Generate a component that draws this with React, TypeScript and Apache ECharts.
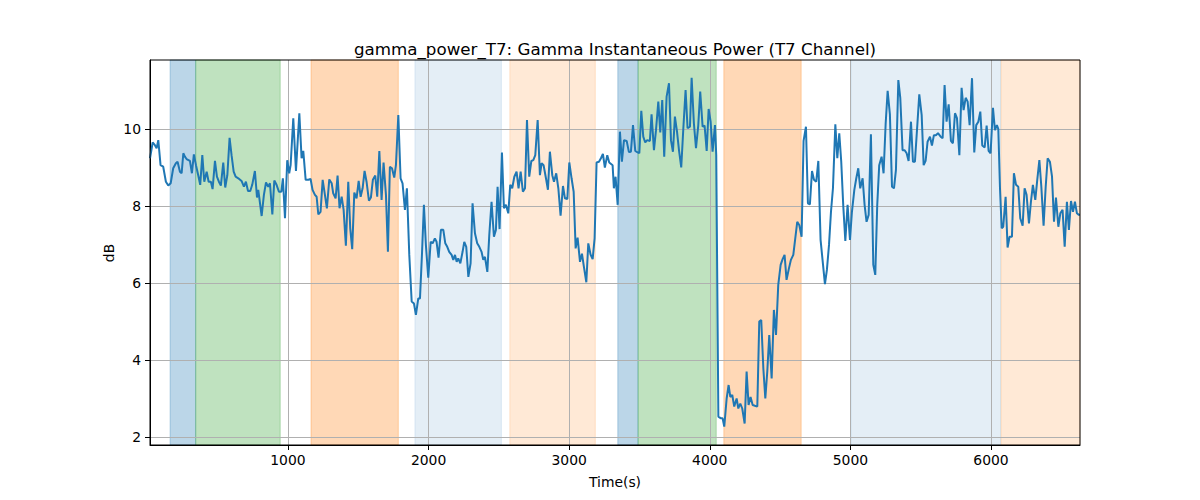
import { useEffect, useRef } from "react";
import * as echarts from "echarts";

// sample times (s) and gamma power (dB)
const TIME_S = [
  19, 38, 54, 66, 78, 94, 113, 132, 149, 166, 184, 203, 215, 232, 244, 256, 267, 279, 303, 317,
  331, 346, 362, 376, 391, 405, 422, 436, 452, 464, 481, 495, 509, 523, 540, 554, 569, 585, 599, 614,
  628, 647, 670, 687, 701, 716, 732, 746, 765, 780, 789, 813, 829, 844, 860, 872, 889, 903, 919, 936,
  953, 964, 979, 995, 1009, 1019, 1038, 1057, 1081,
  1097, 1109, 1126, 1145, 1161, 1175, 1192, 1204, 1216, 1232, 1247, 1263, 1277, 1294, 1311, 1322, 1339, 1353, 1367, 1382,
  1396, 1412, 1429, 1443, 1457, 1472, 1488, 1503, 1517, 1531, 1545, 1559, 1576, 1590, 1604, 1621, 1635, 1650, 1666, 1680,
  1697, 1711, 1725, 1740, 1756, 1768, 1785, 1801, 1815, 1832, 1846, 1863, 1880, 1896, 1910, 1927, 1939, 1953, 1967, 1981,
  1998, 2015, 2029, 2045, 2057, 2071, 2088, 2105, 2119, 2133, 2147, 2164, 2176, 2188, 2200, 2211, 2226, 2242, 2254, 2268, 2283,
  2299, 2313, 2330, 2346, 2361, 2377, 2389, 2401, 2418, 2432, 2448, 2465, 2479, 2491, 2505, 2522, 2536, 2550, 2567, 2581,
  2595, 2610, 2626, 2640, 2655, 2671, 2686, 2700, 2716, 2731, 2745, 2759, 2776, 2792, 2804, 2818, 2835, 2849, 2863, 2880,
  2892, 2908, 2923, 2939, 2956, 2970, 2987, 3001, 3017, 3032, 3046, 3060, 3077, 3091, 3105, 3122, 3136, 3152, 3167, 3181,
  3195, 3212, 3226, 3240, 3254, 3271, 3285,
  3309, 3318, 3330, 3345, 3361, 3375, 3390, 3409, 3425, 3439, 3454, 3470, 3484, 3499, 3513, 3527, 3541, 3555, 3574, 3586,
  3603, 3617, 3634, 3648, 3662, 3676, 3693, 3710, 3724, 3738, 3752, 3767, 3781, 3797, 3812, 3828, 3842, 3859, 3871, 3887,
  3902, 3918, 3932, 3949, 3963, 3978, 3992, 4006, 4020, 4037, 4046, 4061, 4077, 4091, 4103, 4120, 4134, 4146, 4160, 4174,
  4191, 4203, 4217, 4231, 4248, 4262, 4276, 4290, 4305, 4321, 4338, 4352, 4366, 4381, 4395, 4409, 4423, 4440, 4456, 4471,
  4487, 4504, 4518, 4532, 4546, 4563, 4577, 4594, 4608, 4622, 4637, 4653, 4667, 4684, 4698, 4712, 4727, 4741, 4757, 4772,
  4788, 4802, 4819, 4833, 4848, 4862, 4876, 4893, 4907, 4921, 4935, 4949, 4964, 4980, 4997, 5011, 5028, 5042, 5056, 5070,
  5087, 5101, 5115, 5130, 5146, 5163, 5177, 5191, 5205, 5222, 5236, 5251, 5265, 5281, 5296, 5310, 5324, 5341, 5355, 5371,
  5386, 5400, 5414, 5431, 5445, 5459, 5476, 5490, 5507, 5521, 5535, 5549, 5566, 5580, 5594, 5608, 5623,
  5642, 5656, 5670, 5684, 5699, 5715, 5729, 5744, 5758, 5775, 5791, 5805, 5820, 5834, 5848, 5865, 5881, 5895, 5910, 5924,
  5938, 5955, 5969, 5983, 5997, 6014, 6028, 6042, 6052, 6064, 6076, 6087, 6104, 6118, 6132, 6149, 6163, 6178, 6194, 6208,
  6225, 6239, 6253, 6270, 6284, 6298, 6315, 6329, 6344, 6358, 6374, 6389, 6403, 6419, 6434, 6448, 6462, 6479, 6493, 6509,
  6524, 6540, 6554, 6569, 6583, 6597, 6611, 6625, 6633,
];

const POWER_DB = [
  9.24, 9.65, 9.58, 9.5, 9.71, 9.06, 9.02, 8.63, 8.53, 8.59, 8.98, 9.11, 9.15, 8.89, 8.85, 9.37, 9.28, 9.22, 9.17, 8.85,
  9.34, 9.06, 8.8, 8.55, 9.32, 8.63, 8.89, 8.63, 8.63, 8.44, 9.17, 8.76, 8.63, 8.53, 9.13, 8.48, 8.8, 9.77, 9.32, 8.89,
  8.76, 8.72, 8.65, 8.5, 8.63, 8.39, 8.39, 8.55, 8.91, 8.22, 8.42, 7.74, 8.29, 8.61, 8.5, 8.59, 7.78, 8.66, 8.55, 8.37,
  8.37, 8.72, 7.68, 9.19, 8.85, 9.06, 10.28, 8.91, 10.41,
  9.24, 9.43, 8.68, 8.68, 8.7, 8.42, 8.29, 8.24, 7.78, 7.85, 8.68, 8.29, 7.94, 8.69, 8.59, 8.33, 8.2, 8.79, 7.94, 8.24,
  7.9, 6.97, 8.63, 7.42, 6.88, 8.35, 8.2, 8.65, 8.24, 8.46, 8.91, 8.63, 8.14, 8.22, 8.68, 8.79, 8.24, 9.43, 8.16, 9.13,
  8.29, 6.81, 9.02, 8.98, 8.74, 9.06, 10.36, 8.72, 8.59, 7.9, 8.46, 6.73, 5.52, 5.47, 5.17, 5.6, 5.6, 6.73, 8.03, 6.99,
  6.14, 7.07, 7.03, 7.16, 7.07, 6.66, 7.38, 7.38, 7.03, 6.94, 6.81, 6.73, 6.6, 6.73, 6.55, 6.64, 6.51, 6.81, 7.07, 6.94, 6.16,
  6.51, 8.07, 7.29, 7.03, 6.94, 6.81, 6.6, 6.68, 6.29, 7.25, 8.11, 7.2, 7.38, 8.5, 7.4, 9.39, 7.94, 8.03, 7.81, 8.55,
  8.46, 8.76, 8.89, 8.46, 8.89, 8.37, 8.46, 10.23, 8.76, 9.17, 9.19, 9.32, 10.23, 8.8, 9.11, 9.06, 8.72, 8.42, 9.41, 8.8,
  8.63, 8.85, 8.46, 7.75, 8.52, 8.2, 8.18, 9.13, 8.72, 8.37, 6.9, 7.18, 6.55, 6.76, 6.42, 6.02, 7.03, 6.74, 6.62, 7.16,
  9.13, 9.15, 9.24, 9.35, 9.0, 9.32, 9.13,
  9.06, 8.46, 8.76, 8.03, 9.93, 9.15, 9.71, 9.69, 9.4, 9.41, 10.1, 9.43, 9.4, 9.37, 10.47, 9.8, 9.65, 9.71, 9.69, 10.38,
  9.45, 9.95, 10.71, 9.91, 10.75, 9.28, 10.84, 11.19, 9.71, 9.41, 10.32, 9.93, 9.45, 9.0, 10.02, 11.01, 10.02, 10.06, 11.33, 10.15,
  9.5, 10.09, 10.97, 10.06, 10.09, 9.43, 10.52, 10.19, 9.41, 10.1, 9.32, 2.53, 2.49, 2.49, 2.27, 3.0, 3.35, 3.04, 3.09, 2.79,
  3.0, 2.74, 2.87, 2.74, 2.35, 3.7, 2.83, 3.04, 2.83, 2.81, 2.79, 5.0, 5.04, 3.78, 3.0, 3.7, 4.65, 3.52, 5.3, 4.65,
  5.95, 6.47, 6.62, 6.73, 6.08, 6.38, 6.6, 6.73, 7.16, 7.59, 7.5, 7.2, 9.69, 10.06, 8.07, 8.04, 8.91, 8.68, 8.63, 9.17,
  7.12, 6.6, 5.97, 6.34, 6.99, 7.85, 8.46, 10.12, 9.24, 9.89, 9.15, 8.03, 7.09, 8.03, 7.12, 7.85, 8.42, 8.72, 8.98, 8.46,
  8.72, 8.03, 7.59, 7.77, 9.86, 6.47, 6.21, 8.03, 9.06, 9.28, 8.85, 10.15, 10.99, 10.38, 8.5, 8.46, 8.94, 11.27, 10.8, 9.45,
  9.45, 9.37, 9.17, 10.19, 9.15, 9.15, 10.1, 10.9, 10.36, 9.06, 9.17, 9.67, 9.8, 9.57, 9.84, 9.84, 9.89,
  9.8, 9.76, 11.14, 10.19, 10.64, 9.69, 9.63, 10.41, 10.28, 9.32, 11.07, 10.49, 10.81, 10.71, 10.1, 11.32, 9.39, 10.1, 10.19, 10.45,
  9.57, 9.52, 10.09, 9.43, 9.37, 10.55, 9.97, 10.1, 10.0, 8.46, 7.42, 7.46, 8.24, 6.92, 7.2, 7.2, 8.85, 8.55, 8.5, 7.68,
  7.49, 8.46, 8.29, 7.55, 8.11, 8.55, 8.16, 8.68, 9.19, 8.5, 7.49, 8.5, 9.24, 9.15, 8.76, 7.59, 8.22, 7.46, 7.81, 7.9,
  6.94, 8.11, 7.38, 8.13, 7.85, 8.11, 7.81, 7.77, 7.77,
];

// shaded epochs: [start, end, kind]
const SPAN_START = [162, 344, 1164, 1903, 2578, 3346, 3490, 4100, 5008, 6072];
const SPAN_END = [344, 945, 1785, 2518, 3186, 3490, 4046, 4650, 6068, 6633];
const SPAN_KIND = ["blue", "green", "orange", "paleBlue", "paleOrange", "blue", "green", "orange", "paleBlue", "paleOrange"];

const X_TICKS = [1000, 2000, 3000, 4000, 5000, 6000];
const Y_TICKS = [2, 4, 6, 8, 10];

const SPAN_COLORS: Record<string, string> = {
  blue: "rgba(31,119,180,0.3)",
  green: "rgba(44,160,44,0.3)",
  orange: "rgba(255,127,14,0.3)",
  paleBlue: "rgba(31,119,180,0.12)",
  paleOrange: "rgba(255,127,14,0.17)",
};

const FONT = "DejaVu Sans";

export default function App() {
  const ref = useRef<HTMLDivElement>(null);
  useEffect(() => {
    if (!ref.current) return;
    const chart = echarts.init(ref.current, undefined, { renderer: "svg" });
    const points = TIME_S.map((t, i) => [t, POWER_DB[i]]);
    const spans = SPAN_START.map((s, i) => {
      const c = SPAN_COLORS[SPAN_KIND[i]];
      return [
        { xAxis: s, itemStyle: { color: c, borderColor: c, borderWidth: 1 } },
        { xAxis: SPAN_END[i] },
      ];
    });
    const axisCommon = {
      z: 1.5,
      axisLine: { show: true, lineStyle: { color: "#000", width: 1 } },
      splitLine: { show: true, lineStyle: { color: "#b0b0b0", width: 1 } },
    };
    const option: echarts.EChartsOption = {
      animation: false,
      backgroundColor: "#fff",
      title: {
        text: "gamma_power_T7: Gamma Instantaneous Power (T7 Channel)",
        left: 610,
        top: 35,
        textAlign: "center",
        textStyle: { fontFamily: FONT, fontSize: 16.7, fontWeight: "normal", color: "#000" },
      },
      grid: {
        left: 150,
        top: 60,
        width: 930,
        height: 385,
        show: true,
        z: 3,
        borderColor: "#000",
        borderWidth: 1,
        backgroundColor: "transparent",
      },
      xAxis: {
        type: "value",
        min: 19,
        max: 6633,
        ...axisCommon,
        axisTick: { show: true, length: 5, lineStyle: { color: "#000" }, customValues: X_TICKS },
        axisLabel: {
          customValues: X_TICKS,
          margin: 8,
          fontFamily: FONT,
          fontSize: 13.9,
          color: "#000",
          formatter: (v: number) => String(v),
        },
      },
      yAxis: {
        type: "value",
        min: 1.792,
        max: 11.792,
        ...axisCommon,
        axisTick: { show: true, length: 5, lineStyle: { color: "#000" }, customValues: Y_TICKS },
        axisLabel: {
          customValues: Y_TICKS,
          margin: 9,
          fontFamily: FONT,
          fontSize: 13.9,
          color: "#000",
          formatter: (v: number) => String(v),
        },
      },
      graphic: [
        {
          type: "text",
          x: 615,
          y: 482,
          style: { text: "Time(s)", fontFamily: FONT, fontSize: 13.9, fill: "#000", align: "center", verticalAlign: "middle" },
        },
        {
          type: "text",
          x: 109,
          y: 253,
          rotation: Math.PI / 2,
          style: { text: "dB", fontFamily: FONT, fontSize: 13.9, fill: "#000", align: "center", verticalAlign: "middle" },
        },
      ],
      series: [
        {
          type: "line",
          data: points,
          showSymbol: false,
          z: 2,
          lineStyle: { color: "#1f77b4", width: 2 },
          itemStyle: { color: "#1f77b4" },
          markArea: { silent: true, z: 1, data: spans as any },
        },
      ],
    };
    chart.setOption(option);
    return () => chart.dispose();
  }, []);
  return <div ref={ref} style={{ position: "fixed", left: 0, top: 0, width: 1200, height: 500 }} />;
}
